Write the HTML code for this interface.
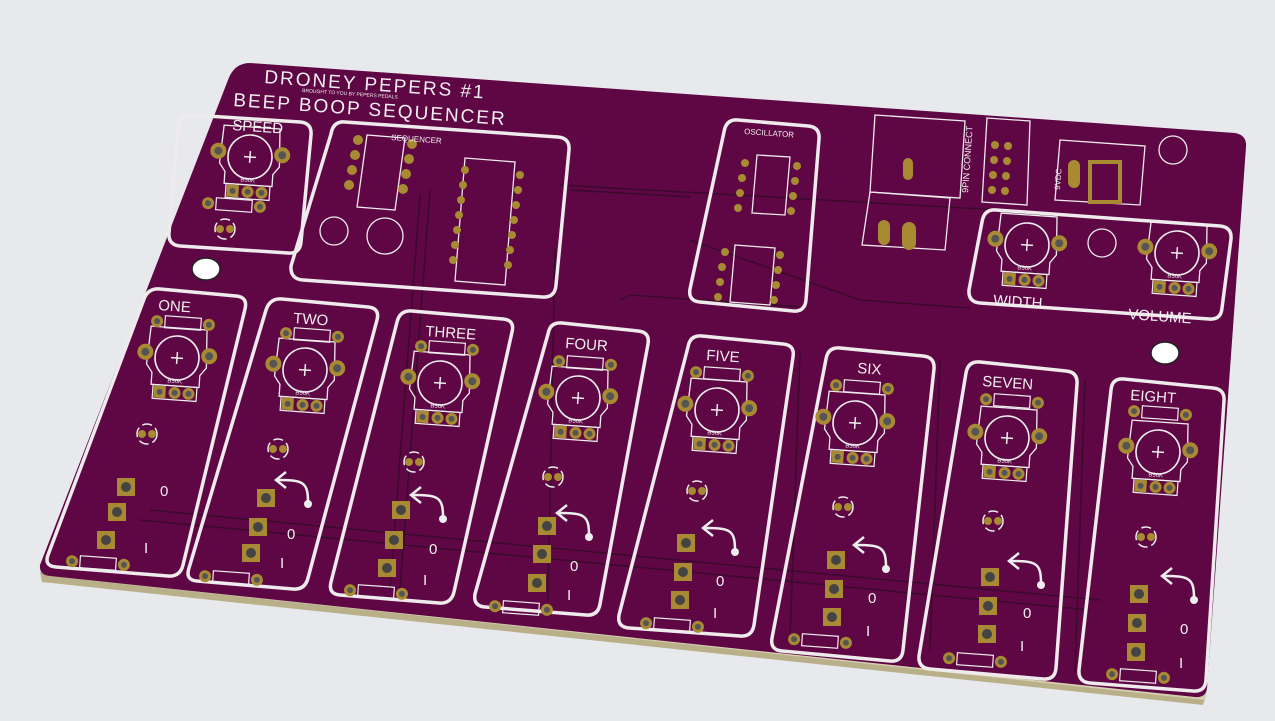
<!DOCTYPE html>
<html><head><meta charset="utf-8"><style>
html,body{margin:0;padding:0;background:#e8e9ec;}
svg{display:block}
text{font-family:"Liberation Sans",sans-serif;fill:#f2eef0}
</style></head><body>
<svg width="1275" height="721" viewBox="0 0 1275 721" xmlns="http://www.w3.org/2000/svg">
<defs>
<g id="pot">
  <path d="M-28,-30 L28,-30 L30,8 L24,16 L24,28 L-24,28 L-24,16 L-30,8 Z" fill="none" stroke="#eee" stroke-width="1.3"/>
  <circle r="22" fill="none" stroke="#eee" stroke-width="1.6"/>
  <path d="M-6,0 H6 M0,-6 V6" stroke="#eee" stroke-width="1.5"/>
  <circle cx="-32" cy="-4" r="8" fill="#a88a32"/><circle cx="-32" cy="-4" r="4" fill="#555"/>
  <circle cx="32" cy="-4" r="8" fill="#a88a32"/><circle cx="32" cy="-4" r="4" fill="#555"/>
  <rect x="-22" y="28" width="44" height="14" fill="none" stroke="#eee" stroke-width="1.2"/>
  <rect x="-21" y="29" width="12" height="12" fill="#a88a32"/>
  <circle cx="0" cy="35" r="6" fill="#a88a32"/><circle cx="14" cy="35" r="6" fill="#a88a32"/>
  <circle cx="-15" cy="35" r="3" fill="#555"/><circle cx="0" cy="35" r="3" fill="#555"/><circle cx="14" cy="35" r="3" fill="#555"/>
  <text x="-8" y="25" font-size="6">B50K</text>
</g>
<g id="led">
  <circle r="10" fill="none" stroke="#eee" stroke-width="1.5" stroke-dasharray="10 4"/>
  <circle cx="-5" r="4" fill="#a88a32"/><circle cx="5" r="4" fill="#a88a32"/>
</g>
<g id="sq"><rect x="-9" y="-9" width="18" height="18" fill="#a88a32"/><circle r="5" fill="#444"/></g>
<g id="res"><rect x="-18" y="-6" width="36" height="12" fill="none" stroke="#eee" stroke-width="1.2"/><circle cx="-26" r="6" fill="#a88a32"/><circle cx="26" r="6" fill="#a88a32"/><circle cx="-26" r="3" fill="#555"/><circle cx="26" r="3" fill="#555"/></g>
<g id="arrow"><path d="M0,0 C0,-20 -5,-22 -30,-22" fill="none" stroke="#eee" stroke-width="2.5"/><path d="M-22,-30 L-32,-22 L-22,-14" fill="none" stroke="#eee" stroke-width="2.5"/><circle cx="0" cy="2" r="4" fill="#eee"/></g>
</defs>
<path d="M40,572 L42,582 L1203,705 L1206,695 Z" fill="#b9b08a"/>
<path d="M40,575 L1205,700 L1207,692 Z" fill="#d5cfb0"/>
<path d="M250,63 L1235,133 Q1247,135 1246,147 L1207,688 Q1206,698 1195,697 L50,576 Q39,575 40,565 L228,80 Q234,63 250,63 Z" fill="#5e0744"/>
<g stroke="#3a0a2c" stroke-width="1.5" fill="none">
<path d="M560,185 L1000,210"/><path d="M570,190 L690,197"/><path d="M620,300 L630,295 L800,307"/>
<path d="M690,240 L860,300 L970,308"/><path d="M430,190 L400,590"/><path d="M420,195 L390,590"/>
<path d="M150,510 L1100,600"/><path d="M140,520 L1090,610"/><path d="M555,250 L548,600"/><path d="M940,360 L930,650"/><path d="M1085,380 L1075,672"/><path d="M800,350 L790,640"/>
</g>
<g fill="none" stroke="#efeaec" stroke-width="3.5" stroke-linejoin="round">
<path d="M192,115 L300,122 Q312,123 311,135 L301,242 Q300,254 288,253 L180,246 Q168,245 169,233 L178,127 Q179,114 192,115 Z"/>
<path d="M345,122 L558,137 Q570,138 569,150 L556,285 Q555,298 542,297 L303,280 Q290,279 291,266 L331,134 Q333,121 345,122 Z"/>
<path d="M738,120 L808,126 Q820,127 819,139 L806,300 Q805,312 793,311 L700,302 Q688,301 690,289 L724,132 Q726,119 738,120 Z"/>
<path d="M996,210 L1220,226 Q1232,227 1231,239 L1222,308 Q1221,320 1209,319 L980,303 Q968,302 969,290 L982,222 Q984,209 996,210 Z"/>
<path d="M160,289 L236,296 Q248,297 245,309 L183,565 Q180,577 168,576 L56,567 Q44,566 48,555 L144,299 Q148,288 160,289 Z"/>
<path d="M282,299 L368,307 Q380,308 377,320 L308,578 Q305,590 293,589 L197,581 Q185,580 189,568 L266,310 Q270,298 282,299 Z"/>
<path d="M412,311 L503,319 Q515,320 512,332 L454,592 Q451,604 439,603 L340,595 Q328,594 331,582 L397,322 Q400,310 412,311 Z"/>
<path d="M562,323 L638,331 Q650,332 648,344 L600,604 Q598,616 586,615 L485,607 Q473,606 475,594 L548,334 Q550,322 562,323 Z"/>
<path d="M702,336 L783,344 Q795,345 793,357 L754,625 Q752,637 740,636 L629,628 Q617,627 619,615 L688,347 Q690,335 702,336 Z"/>
<path d="M840,348 L923,356 Q935,357 934,369 L903,650 Q902,662 890,661 L782,651 Q770,650 772,638 L826,359 Q828,347 840,348 Z"/>
<path d="M980,362 L1066,371 Q1078,372 1077,384 L1056,668 Q1055,680 1043,679 L930,669 Q918,668 919,656 L966,373 Q968,361 980,362 Z"/>
<path d="M1124,379 L1213,388 Q1225,389 1224,401 L1206,680 Q1205,692 1193,691 L1090,683 Q1078,682 1079,670 L1111,390 Q1112,378 1124,379 Z"/>
</g>
<g fill="none" stroke="#efeaec" stroke-width="1.3">
<path d="M875,115 L965,121 L960,198 L870,192 Z"/><path d="M870,192 L950,198 L945,250 L862,245 Z"/>
<path d="M987,118 L1030,121 L1027,205 L982,202 Z"/>
<path d="M1060,140 L1145,146 L1140,205 L1055,200 Z"/>
</g>
<rect x="878" y="220" width="12" height="25" rx="6" fill="#a88a32"/><rect x="902" y="222" width="14" height="28" rx="7" fill="#a88a32"/>
<rect x="903" y="158" width="10" height="22" rx="5" fill="#a88a32"/>
<rect x="1068" y="160" width="12" height="28" rx="6" fill="#a88a32"/><rect x="1090" y="162" width="30" height="40" fill="none" stroke="#a88a32" stroke-width="4"/>
<g fill="#a88a32"><circle cx="995" cy="145" r="4"/><circle cx="1008" cy="146" r="4"/><circle cx="994" cy="160" r="4"/><circle cx="1007" cy="161" r="4"/><circle cx="993" cy="175" r="4"/><circle cx="1006" cy="176" r="4"/><circle cx="992" cy="190" r="4"/><circle cx="1005" cy="191" r="4"/></g>
<g fill="none" stroke="#efeaec" stroke-width="1.3">
<path d="M367,135 L405,138 L395,210 L357,207 Z"/><path d="M465,158 L515,162 L505,285 L455,281 Z"/>
<path d="M757,155 L790,157 L785,215 L752,213 Z"/><path d="M735,245 L775,248 L770,305 L730,302 Z"/>
</g>
<g fill="#a88a32">
<circle cx="358" cy="140" r="5"/><circle cx="355" cy="155" r="5"/><circle cx="352" cy="170" r="5"/><circle cx="349" cy="185" r="5"/>
<circle cx="412" cy="144" r="5"/><circle cx="409" cy="159" r="5"/><circle cx="406" cy="174" r="5"/><circle cx="403" cy="189" r="5"/>
<circle cx="465" cy="170" r="4"/><circle cx="463" cy="185" r="4"/><circle cx="461" cy="200" r="4"/><circle cx="459" cy="215" r="4"/><circle cx="457" cy="230" r="4"/><circle cx="455" cy="245" r="4"/><circle cx="453" cy="260" r="4"/>
<circle cx="520" cy="175" r="4"/><circle cx="518" cy="190" r="4"/><circle cx="516" cy="205" r="4"/><circle cx="514" cy="220" r="4"/><circle cx="512" cy="235" r="4"/><circle cx="510" cy="250" r="4"/><circle cx="508" cy="265" r="4"/>
<circle cx="745" cy="163" r="4"/><circle cx="742" cy="178" r="4"/><circle cx="740" cy="193" r="4"/><circle cx="738" cy="208" r="4"/>
<circle cx="797" cy="166" r="4"/><circle cx="795" cy="181" r="4"/><circle cx="793" cy="196" r="4"/><circle cx="791" cy="211" r="4"/>
<circle cx="725" cy="252" r="4"/><circle cx="722" cy="267" r="4"/><circle cx="720" cy="282" r="4"/><circle cx="718" cy="297" r="4"/>
<circle cx="780" cy="255" r="4"/><circle cx="778" cy="270" r="4"/><circle cx="776" cy="285" r="4"/><circle cx="774" cy="300" r="4"/>
</g>
<circle cx="334" cy="231" r="14" fill="none" stroke="#eee" stroke-width="1.3"/><circle cx="385" cy="236" r="18" fill="none" stroke="#eee" stroke-width="1.3"/>
<circle cx="1102" cy="243" r="14" fill="none" stroke="#eee" stroke-width="1.3"/><circle cx="1173" cy="150" r="14" fill="none" stroke="#eee" stroke-width="1.3"/>
<ellipse cx="206" cy="269" rx="14" ry="11" fill="#fff" stroke="#222" stroke-width="1.5"/>
<ellipse cx="1165" cy="353" rx="14" ry="11" fill="#fff" stroke="#222" stroke-width="1.5"/>
<use href="#pot" transform="translate(250,157) rotate(4)"/>
<use href="#pot" transform="translate(177,358) rotate(4)"/>
<use href="#pot" transform="translate(305,370) rotate(4)"/>
<use href="#pot" transform="translate(440,383) rotate(4)"/>
<use href="#pot" transform="translate(578,398) rotate(4)"/>
<use href="#pot" transform="translate(717,410) rotate(4)"/>
<use href="#pot" transform="translate(855,423) rotate(4)"/>
<use href="#pot" transform="translate(1007,438) rotate(4)"/>
<use href="#pot" transform="translate(1158,452) rotate(4)"/>
<use href="#pot" transform="translate(1027,245) rotate(4)"/>
<use href="#pot" transform="translate(1177,253) rotate(4)"/>
<use href="#res" transform="translate(234,205) rotate(4)"/>
<use href="#res" transform="translate(183,323) rotate(4)"/>
<use href="#res" transform="translate(312,335) rotate(4)"/>
<use href="#res" transform="translate(447,348) rotate(4)"/>
<use href="#res" transform="translate(585,363) rotate(4)"/>
<use href="#res" transform="translate(722,374) rotate(4)"/>
<use href="#res" transform="translate(862,387) rotate(4)"/>
<use href="#res" transform="translate(1012,401) rotate(4)"/>
<use href="#res" transform="translate(1160,413) rotate(4)"/>
<use href="#res" transform="translate(98,563) rotate(4)"/>
<use href="#res" transform="translate(231,578) rotate(4)"/>
<use href="#res" transform="translate(376,592) rotate(4)"/>
<use href="#res" transform="translate(521,608) rotate(4)"/>
<use href="#res" transform="translate(672,625) rotate(4)"/>
<use href="#res" transform="translate(820,641) rotate(4)"/>
<use href="#res" transform="translate(975,660) rotate(4)"/>
<use href="#res" transform="translate(1138,676) rotate(4)"/>
<use href="#led" transform="translate(225,229)"/>
<use href="#led" transform="translate(147,434)"/><use href="#led" transform="translate(278,449)"/>
<use href="#led" transform="translate(414,462)"/><use href="#led" transform="translate(553,477)"/>
<use href="#led" transform="translate(697,491)"/><use href="#led" transform="translate(843,507)"/>
<use href="#led" transform="translate(993,521)"/><use href="#led" transform="translate(1146,537)"/>
<g>
<use href="#sq" transform="translate(126,487)"/><use href="#sq" transform="translate(117,512)"/><use href="#sq" transform="translate(106,540)"/>
<use href="#sq" transform="translate(266,498)"/><use href="#sq" transform="translate(258,527)"/><use href="#sq" transform="translate(251,553)"/>
<use href="#sq" transform="translate(401,510)"/><use href="#sq" transform="translate(394,540)"/><use href="#sq" transform="translate(387,568)"/>
<use href="#sq" transform="translate(547,526)"/><use href="#sq" transform="translate(542,554)"/><use href="#sq" transform="translate(537,583)"/>
<use href="#sq" transform="translate(686,543)"/><use href="#sq" transform="translate(683,572)"/><use href="#sq" transform="translate(680,600)"/>
<use href="#sq" transform="translate(836,560)"/><use href="#sq" transform="translate(834,589)"/><use href="#sq" transform="translate(832,617)"/>
<use href="#sq" transform="translate(990,577)"/><use href="#sq" transform="translate(988,606)"/><use href="#sq" transform="translate(987,634)"/>
<use href="#sq" transform="translate(1139,594)"/><use href="#sq" transform="translate(1137,623)"/><use href="#sq" transform="translate(1136,652)"/>
</g>
<use href="#arrow" transform="translate(308,502)"/><use href="#arrow" transform="translate(443,517)"/>
<use href="#arrow" transform="translate(589,535)"/><use href="#arrow" transform="translate(735,550)"/>
<use href="#arrow" transform="translate(886,567)"/><use href="#arrow" transform="translate(1041,583)"/>
<use href="#arrow" transform="translate(1194,598)"/>
<text x="264" y="83" font-size="19" letter-spacing="2" transform="rotate(4 264 83)">DRONEY PEPERS #1</text>
<text x="302" y="92" font-size="5" transform="rotate(4 302 92)">BROUGHT TO YOU BY PEPERS PEDALS</text>
<text x="233" y="106" font-size="19" letter-spacing="2" transform="rotate(4 233 106)">BEEP BOOP SEQUENCER</text>
<text x="232" y="130" font-size="15" transform="rotate(4 232 130)">SPEED</text>
<text x="391" y="140" font-size="8" transform="rotate(4 391 140)">SEQUENCER</text>
<text x="744" y="134" font-size="8" transform="rotate(4 744 134)">OSCILLATOR</text>
<text x="158" y="310" font-size="15" transform="rotate(4 158 310)">ONE</text>
<text x="293" y="323" font-size="15" transform="rotate(4 293 323)">TWO</text>
<text x="425" y="336" font-size="15" transform="rotate(4 425 336)">THREE</text>
<text x="565" y="348" font-size="15" transform="rotate(4 565 348)">FOUR</text>
<text x="706" y="360" font-size="15" transform="rotate(4 706 360)">FIVE</text>
<text x="857" y="373" font-size="15" transform="rotate(4 857 373)">SIX</text>
<text x="982" y="386" font-size="15" transform="rotate(4 982 386)">SEVEN</text>
<text x="1130" y="400" font-size="15" transform="rotate(4 1130 400)">EIGHT</text>
<text x="993" y="305" font-size="15" transform="rotate(4 993 305)">WIDTH</text>
<text x="1128" y="319" font-size="15" transform="rotate(4 1128 319)">VOLUME</text>
<text x="160" y="496" font-size="15">0</text><text x="144" y="553" font-size="15">I</text>
<text x="287" y="539" font-size="15">0</text><text x="280" y="568" font-size="15">I</text>
<text x="429" y="554" font-size="15">0</text><text x="423" y="585" font-size="15">I</text>
<text x="570" y="571" font-size="15">0</text><text x="567" y="600" font-size="15">I</text>
<text x="716" y="586" font-size="15">0</text><text x="713" y="618" font-size="15">I</text>
<text x="868" y="603" font-size="15">0</text><text x="866" y="636" font-size="15">I</text>
<text x="1023" y="618" font-size="15">0</text><text x="1020" y="651" font-size="15">I</text>
<text x="1180" y="634" font-size="15">0</text><text x="1179" y="668" font-size="15">I</text>
<text transform="translate(968,193) rotate(-86)" font-size="9">9PIN CONNECT</text>
<text transform="translate(1060,190) rotate(-86)" font-size="8">9VDC</text>
</svg>
</body></html>
